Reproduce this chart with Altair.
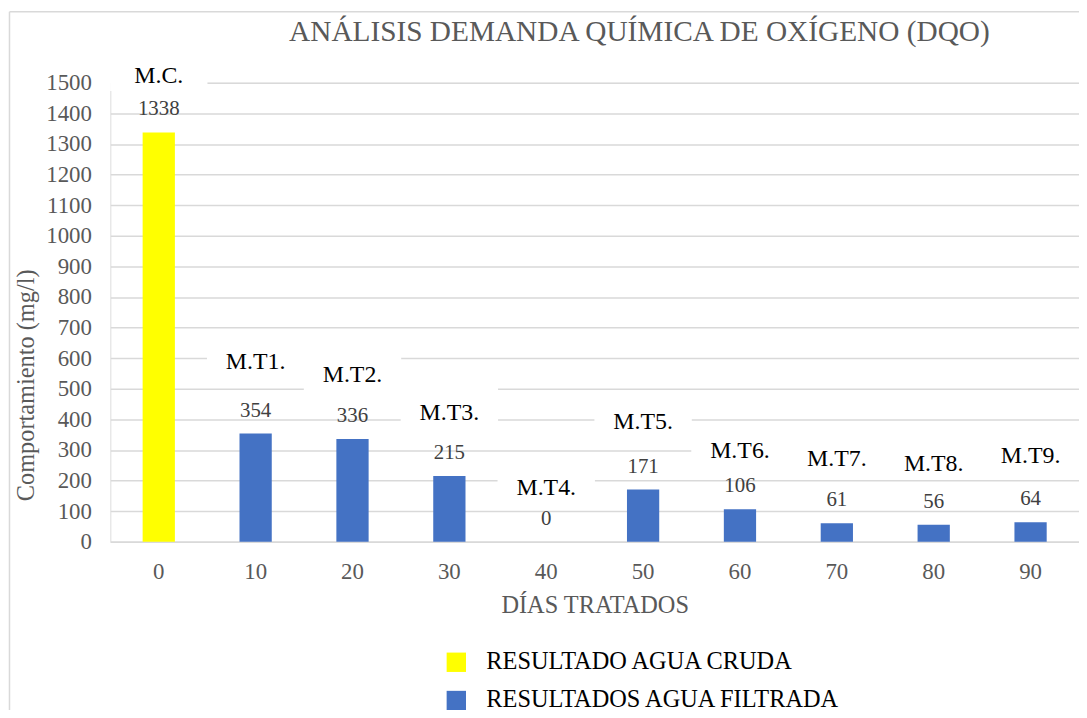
import altair as alt
import pandas as pd

days = [0, 10, 20, 30, 40, 50, 60, 70, 80, 90]
values = [1338, 354, 336, 215, 0, 171, 106, 61, 56, 64]
names = ["M.C.", "M.T1.", "M.T2.", "M.T3.", "M.T4.", "M.T5.", "M.T6.", "M.T7.", "M.T8.", "M.T9."]
name_pos = [1522, 588, 545, 422, 175, 390, 295, 269, 253, 279]
series = ["RESULTADO AGUA CRUDA"] + ["RESULTADOS AGUA FILTRADA"] * 9
series_names = ["RESULTADO AGUA CRUDA", "RESULTADOS AGUA FILTRADA"]
series_colors = ["#FFFF00", "#4472C4"]

df = pd.DataFrame({
    "day": days,
    "value": values,
    "name": names,
    "pos": name_pos,
    "series": series,
})
df["box_lo"] = df["pos"] - 49
df["box_hi"] = df["pos"] + 84

FONT = "Times New Roman, Liberation Serif, serif"
GREY = "#595959"
FRAME = "#d9d9d9"

x = alt.X("day:O",
          scale=alt.Scale(paddingInner=0.667, paddingOuter=0.3335),
          axis=alt.Axis(title="DÍAS TRATADOS", labelAngle=0, labelFont=FONT,
                        labelFontSize=23, labelColor=GREY, labelPadding=19,
                        ticks=False, tickSize=0, domainColor=FRAME, domainWidth=1.5,
                        titleFont=FONT, titleFontSize=24.5, titleColor=GREY,
                        titleFontWeight="normal", titlePadding=10))
yscale = alt.Scale(domain=[0, 1500], nice=False)
yaxis = alt.Axis(title="Comportamiento (mg/l)", values=list(range(0, 1501, 100)),
                 format="d", labelFont=FONT, labelFontSize=23, labelColor=GREY,
                 labelPadding=19, ticks=False, tickSize=0, domain=False,
                 gridColor=FRAME, gridWidth=1.5,
                 titleFont=FONT, titleFontSize=24.5, titleColor=GREY,
                 titleFontWeight="normal", titleX=-84, titleY=304,
                 titleBaseline="middle", titleAlign="center", titleAngle=270)

frame_df = pd.DataFrame({"a": [0]})
frame_top = alt.Chart(frame_df).mark_rule(color=FRAME, strokeWidth=1.5).encode(
    x=alt.value(-101.5), x2=alt.value(985), y=alt.value(-71.5))
frame_left = alt.Chart(frame_df).mark_rule(color=FRAME, strokeWidth=1.5).encode(
    x=alt.value(-101.5), y=alt.value(-71.5), y2=alt.value(640))

boxes = alt.Chart(df).mark_bar(color="white", width=98).encode(
    x=x,
    y=alt.Y("box_lo:Q", scale=yscale, axis=yaxis),
    y2="box_hi:Q",
)

bars = alt.Chart(df).mark_bar().encode(
    x=x,
    y=alt.Y("value:Q", scale=yscale, axis=yaxis),
    color=alt.Color("series:N",
                    scale=alt.Scale(domain=series_names, range=series_colors),
                    legend=alt.Legend(title=None, orient="none", legendX=336, legendY=571,
                                      direction="vertical", symbolType="square",
                                      symbolSize=380, symbolStrokeWidth=0,
                                      labelFont=FONT, labelFontSize=24.5, labelColor="black",
                                      labelOffset=18, rowPadding=13.5, labelLimit=600)),
)

vlabels = alt.Chart(df).mark_text(font=FONT, fontSize=21, color="#404040",
                                  baseline="middle", dy=-23).encode(
    x=x, y=alt.Y("value:Q", scale=yscale, axis=yaxis), text="value:Q")

nlabels = alt.Chart(df).mark_text(font=FONT, fontSize=24, color="black",
                                  baseline="middle").encode(
    x=x, y=alt.Y("pos:Q", scale=yscale, axis=yaxis), text="name:N")

chart = alt.layer(boxes, bars, vlabels, nlabels, frame_top, frame_left).properties(
    width=975, height=462,
    title=alt.TitleParams("ANÁLISIS DEMANDA QUÍMICA DE OXÍGENO (DQO)", font=FONT,
                          fontSize=29.5, color=GREY, fontWeight="normal",
                          anchor="middle", dx=45, offset=-36.6),
    padding={"left": 103, "top": 73, "right": 0, "bottom": 167},
    autosize=alt.AutoSizeParams(type="none"),
).configure_view(stroke=None).configure(background="white")

chart.save("out.html", embed_options={"renderer": "svg", "actions": False})
